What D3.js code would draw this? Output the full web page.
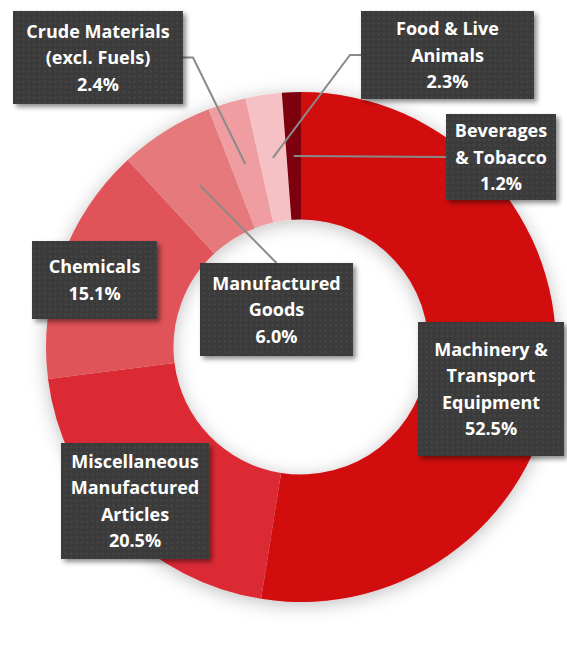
<!DOCTYPE html>
<html>
<head>
<meta charset="utf-8">
<script src="https://cdn.jsdelivr.net/npm/d3@7"></script>
<style>
  html, body { margin: 0; padding: 0; background: #ffffff; }
  svg { display: block; }
</style>
</head>
<body>
<svg id="chart" width="567" height="670"></svg>
<script>
// ---- data ----
const categories = [
  "Machinery & Transport Equipment",
  "Miscellaneous Manufactured Articles",
  "Chemicals",
  "Manufactured Goods",
  "Crude Materials (excl. Fuels)",
  "Food & Live Animals",
  "Beverages & Tobacco"
];
const values = [52.5, 20.5, 15.1, 6.0, 2.4, 2.3, 1.2];
const labelLines = [
  ["Machinery &", "Transport", "Equipment"],
  ["Miscellaneous", "Manufactured", "Articles"],
  ["Chemicals"],
  ["Manufactured", "Goods"],
  ["Crude Materials", "(excl. Fuels)"],
  ["Food & Live", "Animals"],
  ["Beverages", "& Tobacco"]
];
const colors = ["#d20a11", "#dc2b34", "#e05359", "#e6797c", "#ef9da1", "#f5c1c4", "#7c0509"];

// ---- layout (label boxes) ----
const boxes = [
  {x: 418, y: 322, w: 146, h: 134, leader: null},
  {x: 61,  y: 443, w: 148, h: 116, leader: null},
  {x: 32,  y: 241, w: 125, h: 78,  leader: null},
  {x: 200, y: 263, w: 153, h: 93,  leader: "top"},
  {x: 13,  y: 11,  w: 170, h: 93,  leader: "right", elbow: 10},
  {x: 361, y: 11,  w: 173, h: 88,  leader: "left", elbow: 11},
  {x: 446, y: 114, w: 110, h: 86,  leader: "left", elbow: 0}
];

const cx = 301, cy = 347, outerR = 255, innerR = 127.5;
const svg = d3.select("#chart");
const defs = svg.append("defs");

// dotted texture for label boxes
const pat = defs.append("pattern").attr("id", "dots")
  .attr("patternUnits", "userSpaceOnUse").attr("width", 5.3).attr("height", 5.3);
pat.append("rect").attr("width", 5.3).attr("height", 5.3).attr("fill", "#3b3b3b");
pat.append("rect").attr("x", 1.5).attr("y", 1.5).attr("width", 1.6).attr("height", 1.6).attr("fill", "#4d4d4d");

const ds = defs.append("filter").attr("id", "donutShadow")
  .attr("x", "-20%").attr("y", "-20%").attr("width", "140%").attr("height", "140%");
ds.append("feDropShadow").attr("dx", 0).attr("dy", 3).attr("stdDeviation", 9)
  .attr("flood-color", "#000").attr("flood-opacity", 0.25);

const bs = defs.append("filter").attr("id", "boxShadow")
  .attr("x", "-20%").attr("y", "-20%").attr("width", "150%").attr("height", "150%");
bs.append("feDropShadow").attr("dx", 3).attr("dy", 3).attr("stdDeviation", 2.5)
  .attr("flood-color", "#000").attr("flood-opacity", 0.45);

const pie = d3.pie().sort(null).value(d => d)(values);
const arc = d3.arc().innerRadius(innerR).outerRadius(outerR);

const g = svg.append("g").attr("transform", `translate(${cx},${cy})`);
g.append("g").attr("filter", "url(#donutShadow)")
  .selectAll("path").data(pie).join("path")
  .attr("d", arc)
  .attr("fill", (d, i) => colors[i]);

// leader lines
const leaders = svg.append("g");
pie.forEach((d, i) => {
  const b = boxes[i];
  if (!b.leader) return;
  const c = arc.centroid(d);
  const p0 = [cx + c[0], cy + c[1]];
  let pts;
  if (b.leader === "top") {
    pts = [p0, [b.x + b.w / 2, b.y]];
  } else if (b.leader === "right") {
    const ay = b.y + b.h / 2;
    pts = [p0, [b.x + b.w + b.elbow, ay], [b.x + b.w, ay]];
  } else {
    const ay = b.y + b.h / 2;
    pts = [p0, [b.x - b.elbow, ay], [b.x, ay]];
  }
  leaders.append("path").attr("d", d3.line()(pts))
    .attr("fill", "none").attr("stroke", "#8a8a8a").attr("stroke-width", 2);
});

// label boxes
const lineH = 26.5;
const lbl = svg.append("g").selectAll("g").data(pie).join("g");
lbl.append("rect")
  .attr("x", (d, i) => boxes[i].x).attr("y", (d, i) => boxes[i].y)
  .attr("width", (d, i) => boxes[i].w).attr("height", (d, i) => boxes[i].h)
  .attr("fill", "url(#dots)").attr("filter", "url(#boxShadow)");
lbl.each(function(d, i) {
  const b = boxes[i];
  const lines = labelLines[i].concat([d3.format(".1f")(values[i]) + "%"]);
  const n = lines.length;
  const midY = b.y + b.h / 2;
  const t = d3.select(this).append("text")
    .attr("text-anchor", "middle")
    .attr("font-family", "'Open Sans', Lato, sans-serif")
    .attr("font-weight", 700)
    .attr("font-size", 18)
    .attr("fill", "#ffffff");
  lines.forEach((s, k) => {
    t.append("tspan").attr("x", b.x + b.w / 2)
      .attr("y", midY + (k - (n - 1) / 2) * lineH + 6.5)
      .text(s);
  });
});
</script>
</body>
</html>
